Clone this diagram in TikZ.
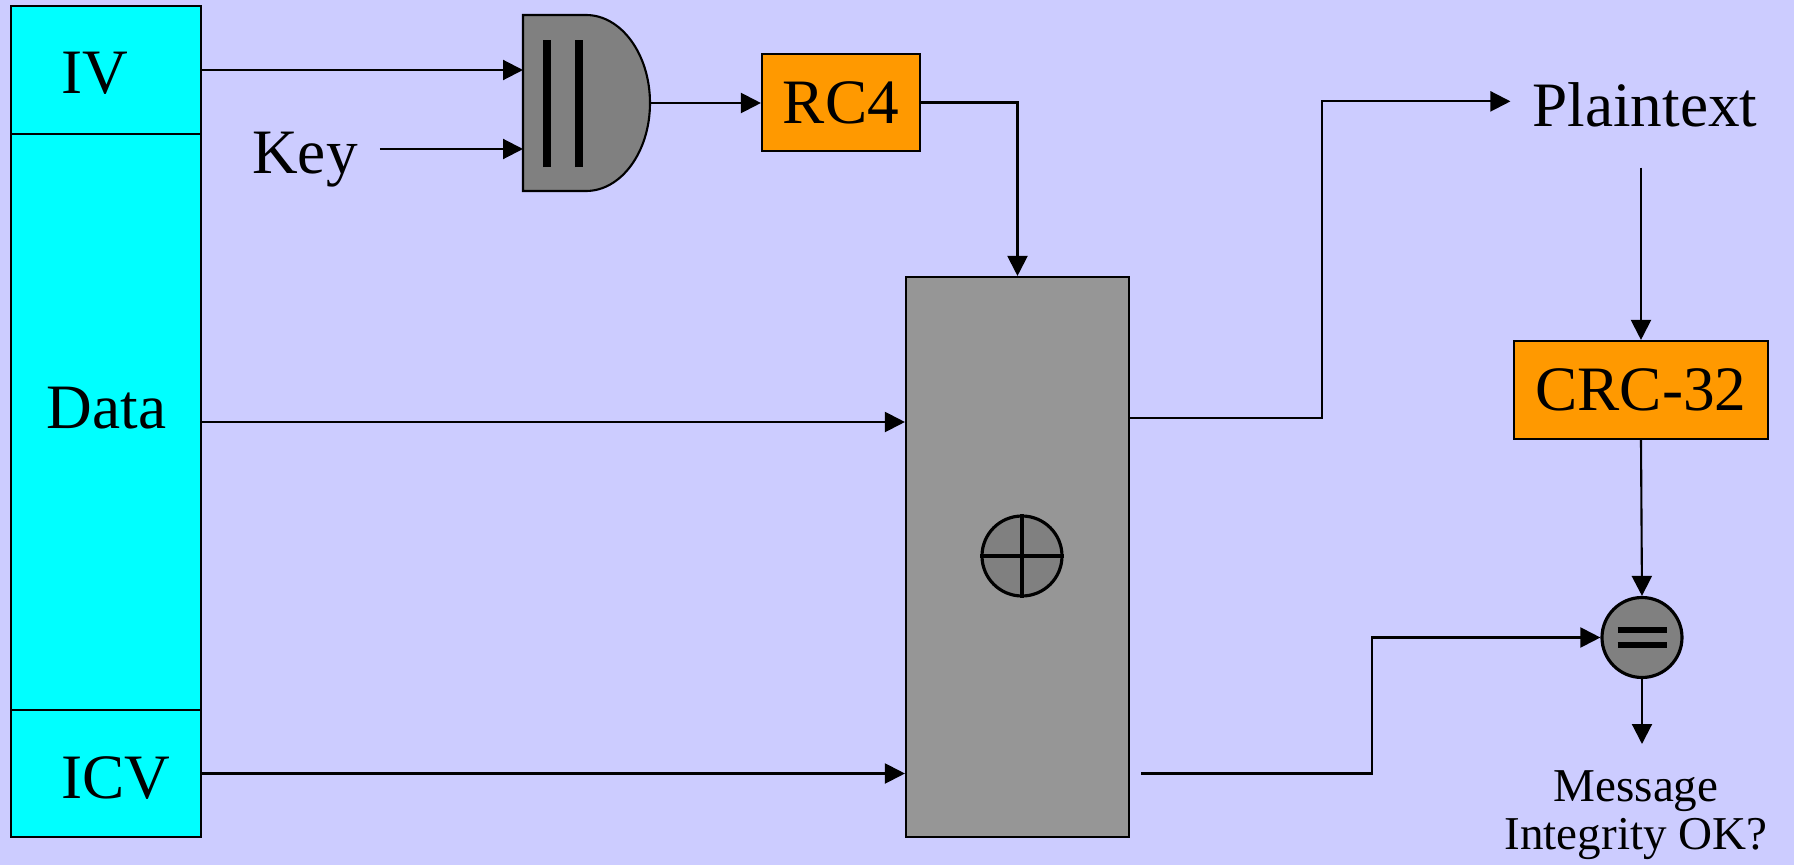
\documentclass[tikz,border=0pt]{standalone}
\usepackage{fontspec}
\setmainfont{Liberation Serif}
\usetikzlibrary{arrows.meta}

\definecolor{bgblue}{HTML}{CCCCFF}
\definecolor{pktcyan}{HTML}{00FFFF}
\definecolor{algoorange}{HTML}{FF9900}
\definecolor{opgray}{HTML}{808080}
\definecolor{boxgray}{HTML}{969696}

\begin{document}
\begin{tikzpicture}[
    line width=0.6pt,
    arr/.style={-{Triangle[length=2mm,width=2mm]}},
    txt/.style={inner sep=0.21cm, font=\fontsize{18}{21.6}\selectfont},
    field/.style={draw, fill=pktcyan, minimum width=1.9cm, inner sep=0pt},
    algo/.style={draw, fill=algoorange, inner sep=0pt, font=\fontsize{18}{21.6}\selectfont},
    op/.style={draw, circle, fill=opgray, minimum size=0.8cm, inner sep=0pt, line width=0.9pt}
]
    % Background
    \fill[bgblue] (0, 0) rectangle (17.94, 8.65);
    \useasboundingbox (0, 0) rectangle (17.94, 8.65);

    % Frame fields
    \node[field, minimum height=1.28cm] (iv) at (1.06, 7.95) {};
    \node[field, minimum height=5.76cm] (data) at (1.06, 4.43) {};
    \node[field, minimum height=1.27cm] (icv) at (1.06, 0.915) {};
    \node[txt, anchor=base] (iv text) at (0.95, 7.72) {IV};
    \node[txt, anchor=base] (data text) at (1.065, 4.37) {Data};
    \node[txt, anchor=base] (icv text) at (1.16, 0.67) {ICV};

    % Key
    \node[txt, anchor=base] (key) at (3.05, 6.91) {Key};

    % Concatenation (||)
    \draw[fill=opgray] (5.23, 6.74) -- (5.86, 6.74)
        arc[start angle=-90, end angle=90, x radius=0.64cm, y radius=0.88cm]
        -- (5.23, 8.50) -- cycle;
    \foreach \x in {5.47, 5.79} {
        \draw[line width=2pt] (\x, 6.98) -- (\x, 8.25);
    }
    \coordinate (cat in1) at (5.23, 7.95);
    \coordinate (cat in2) at (5.23, 7.16);
    \coordinate (cat out) at (6.50, 7.62);

    % RC4 and the XOR block
    \node[algo, minimum width=1.58cm, minimum height=0.97cm] (rc4) at (8.41, 7.625) {RC4};
    \node[draw, fill=boxgray, minimum width=2.23cm, minimum height=5.60cm] (xorbox) at (10.175, 3.08) {};
    \node[op] (xor) at (10.22, 3.09) {};
    \draw[line width=0.9pt] (xor.north) -- (xor.south) (xor.west) -- (xor.east);

    % Right side
    \node[txt, anchor=base] (plain) at (16.45, 7.38) {Plaintext};
    \node[algo, minimum width=2.54cm, minimum height=0.98cm] (crc) at (16.41, 4.75) {CRC-32};
    \node[op] (eq) at (16.42, 2.275) {};
    \foreach \dy in {0.078, -0.078} {
        \draw[line width=1.6pt] ([xshift=-0.245cm, yshift=\dy cm]eq.center) -- ++(0.49, 0);
    }
    \node[align=center, inner sep=0pt, font=\fontsize{13.4}{13.6}\selectfont] (msg) at (16.36, 0.50)
        {Message\\Integrity OK?};
    \coordinate (ok end) at (16.43, 1.21);

    % Connectors
    \draw[arr] (iv.east) -- (cat in1);
    \draw[arr] (key.east |- cat in2) -- (cat in2);
    \draw[arr] (cat out) -- (cat out -| rc4.west);
    \draw[arr] (rc4.east) -| (xorbox.north);
    \draw[arr] (data.east) -- (data.east -| xorbox.west);
    \draw[arr] (icv.east) -- (icv.east -| xorbox.west);
    \draw[arr] ([yshift=1.39cm]xorbox.east) -- ++(1.92, 0) |- ([yshift=0.04cm]plain.west);
    \draw[arr] ([yshift=-1.8mm]plain.south -| crc.north) -- (crc.north);
    \draw[arr] (crc.south) -- (eq.north);
    \draw[arr] ([xshift=1.1mm]xorbox.east |- icv.east) -- ++(2.31, 0) |- (eq.west);
    \draw[arr] (eq.south) -- (eq.south |- ok end);
\end{tikzpicture}
\end{document}
